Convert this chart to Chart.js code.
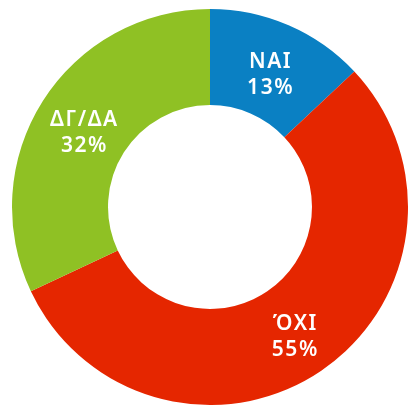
<!DOCTYPE html>
<html>
<head>
<meta charset="utf-8">
<script src="https://cdn.jsdelivr.net/npm/chart.js@4/dist/chart.umd.min.js"></script>
<style>
  html, body { margin: 0; padding: 0; background: #fff; }
  #wrap { width: 408px; height: 406px; }
</style>
</head>
<body>
<div id="wrap"><canvas id="c"></canvas></div>
<script>
// datos
const labels = ["ΝΑΙ", "ΌΧΙ", "ΔΓ/ΔΑ"];
const values = [13, 55, 32];
const colors = ["#0a80c3", "#e52600", "#8fc124"];

// etiquetas blancas dentro de cada sector
const sliceLabels = {
  id: "sliceLabels",
  afterDatasetsDraw(chart) {
    const ctx = chart.ctx;
    const meta = chart.getDatasetMeta(0);
    ctx.save();
    ctx.fillStyle = "#fff";
    ctx.font = "600 21px 'Noto Sans', 'DejaVu Sans', sans-serif";
    ctx.letterSpacing = "1.5px";
    ctx.textAlign = "center";
    ctx.textBaseline = "middle";
    meta.data.forEach((arc, i) => {
      const p = arc.tooltipPosition();
      ctx.fillText(labels[i], p.x + 1, p.y - 7);
      ctx.fillText(values[i] + "%", p.x + 1, p.y + 19);
    });
    ctx.restore();
  }
};

new Chart(document.getElementById("c"), {
  type: "doughnut",
  data: {
    labels: labels,
    datasets: [{
      data: values,
      backgroundColor: colors,
      borderWidth: 0
    }]
  },
  options: {
    responsive: true,
    maintainAspectRatio: false,
    animation: false,
    cutout: "51.5%",
    layout: { padding: { left: 12, right: 0, top: 9, bottom: 1 } },
    plugins: {
      legend: { display: false },
      tooltip: { enabled: false }
    }
  },
  plugins: [sliceLabels]
});
</script>
</body>
</html>
